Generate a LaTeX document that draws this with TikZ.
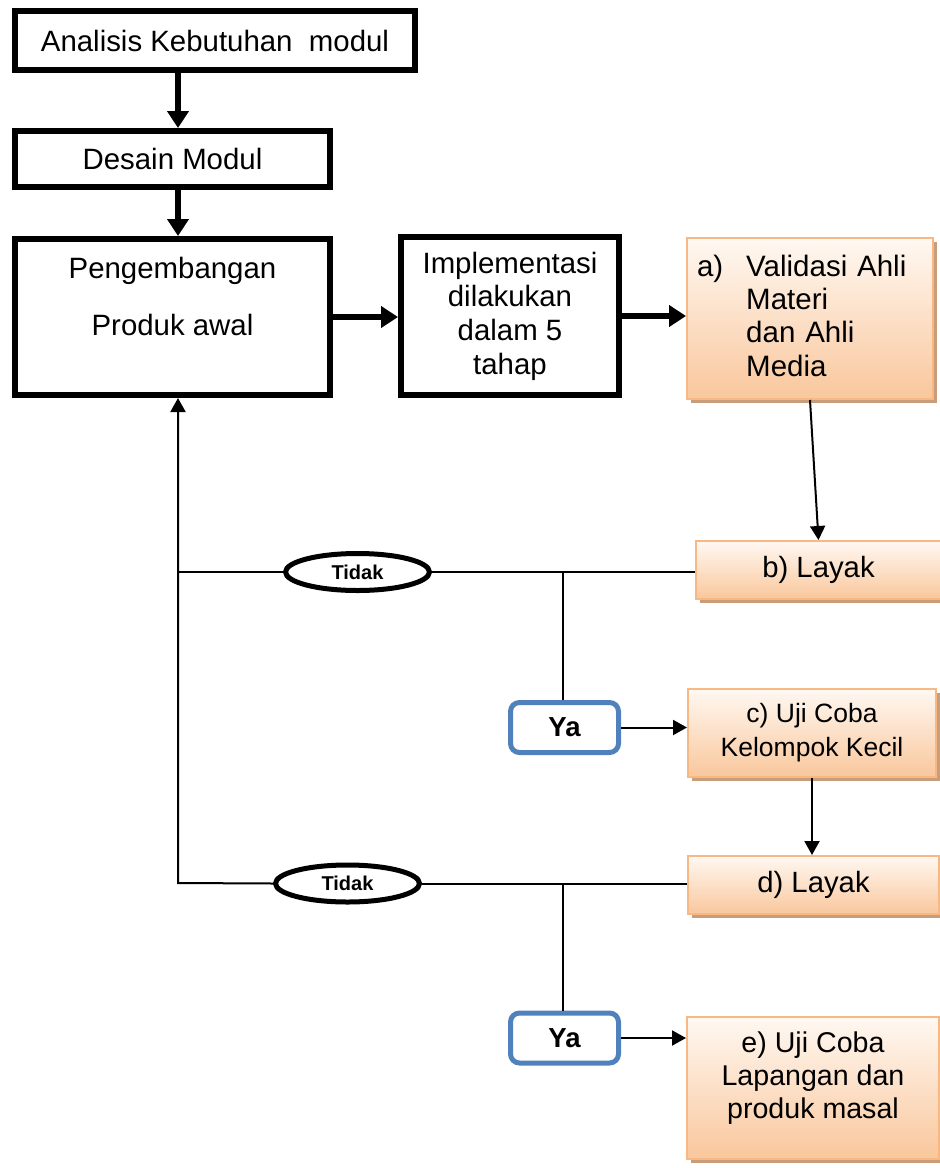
\documentclass[tikz,border=0pt]{standalone}
\usepackage{fontspec}
\setmainfont{Liberation Sans}
\usetikzlibrary{arrows.meta,shapes.geometric,shadows}
\definecolor{orTop}{HTML}{FFF8F2}
\definecolor{orBot}{HTML}{F9C79C}
\definecolor{orBorder}{HTML}{F7B883}
\definecolor{shadowc}{HTML}{C99C7A}
\definecolor{yaBlue}{HTML}{4F81BD}
\begin{document}
\begin{tikzpicture}[x=1pt,y=-1pt,
  blk/.style={draw, line width=6pt, fill=white, inner sep=0pt, align=center,
    font=\fontsize{29.4}{33.6}\selectfont},
  orbox/.style={draw=orBorder, line width=2pt, top color=orTop, bottom color=orBot,
    drop shadow={shadow xshift=4pt, shadow yshift=-4pt, fill=shadowc, opacity=1},
    inner sep=0pt, align=center, font=\fontsize{29.3}{33.4}\selectfont},
  tidak/.style={ellipse, draw, line width=5pt, fill=white, inner sep=0pt,
    minimum width=144pt, minimum height=37pt, font=\bfseries\fontsize{20}{24}\selectfont},
  yabox/.style={draw=yaBlue, line width=5pt, rounded corners=9pt, fill=white, inner sep=0pt,
    minimum width=108pt, minimum height=50pt, font=\bfseries\fontsize{27.5}{30}\selectfont},
  thickarrow/.style={line width=6pt, -{Triangle[length=17pt,width=21pt]}},
  thinarrow/.style={line width=2pt, -{Triangle[length=14pt,width=15pt]}},
  thinline/.style={line width=2pt}]
\useasboundingbox (0,0) rectangle (940,1168);

% main column
\node[blk, minimum width=400pt, minimum height=59pt] (an) at (215,40.5) {Analisis Kebutuhan~ modul};
\node[blk, minimum width=315pt, minimum height=56pt] (de) at (172.5,159) {Desain Modul};
\node[blk, minimum width=315pt, minimum height=156pt] (pe) at (172.5,317)
  {Pengembangan\\[24pt]Produk awal\\[8pt]\mbox{}};
\node[blk, minimum width=218pt, minimum height=158pt] (im) at (510,316)
  {Implementasi\\dilakukan\\dalam 5\\tahap};

% orange boxes
\node[orbox, minimum width=246pt, minimum height=161pt, text width=226pt, align=left,
  font=\fontsize{29.5}{33.4}\selectfont] (va) at (810,318.5)
  {a)\hspace{23pt}Validasi Ahli\\\phantom{a)}\hspace{23pt}Materi\\\phantom{a)}\hspace{23pt}dan Ahli\\\phantom{a)}\hspace{23pt}Media};
\node[orbox, minimum width=245pt, minimum height=58pt] (lb) at (818.5,570) {b) Layak};
\node[orbox, minimum width=248pt, minimum height=88pt, font=\fontsize{26.5}{34}\selectfont] (lc) at (812,733)
  {c) Uji Coba\\Kelompok Kecil};
\node[orbox, minimum width=251pt, minimum height=58pt] (ld) at (813.5,885) {d) Layak};
\node[orbox, minimum width=252pt, minimum height=142pt, font=\fontsize{28.6}{33}\selectfont] (le) at (813,1088)
  {e) Uji Coba\\Lapangan dan\\produk masal\\[-7pt]\mbox{}};

% decisions
\node[tidak] (n1) at (357.5,572) {Tidak};
\node[tidak] (n2) at (347.5,883.5) {Tidak};
\node[yabox] (y1) at (564.5,727.5) {Ya};
\node[yabox] (y2) at (564.5,1038) {Ya};

% connectors, main column
\coordinate (col) at (178,0);
\draw[thickarrow] (an.south -| col) -- (col |- de.north);
\draw[thickarrow] (de.south -| col) -- (col |- pe.north);
\draw[thickarrow] (pe.east) -- (pe.east -| im.west);
\draw[thickarrow] (im.east) -- (im.east -| va.west);
\draw[thinarrow] (va.south) -- (lb.north);

% first decision
\coordinate (t1) at (177,572);
\coordinate (j1) at (563,572);
\draw[thinline] (t1) -- (n1.west);
\draw[thinline] (n1.east) -- (n1.east -| lb.west);
\draw[thinline] (j1) -- (j1 |- y1.north);
\draw[thinarrow] (y1.east) -- (y1.east -| lc.west);
\draw[thinarrow] (lc.south) -- (lc.south |- ld.north);

% second decision
\coordinate (fb) at (178,883);
\coordinate (j2) at (563,883);
\draw[thinarrow] (n2.west) -- (fb) -- (fb |- pe.south);
\draw[thinline] (n2.east) -- (n2.east -| ld.west);
\draw[thinline] (j2) -- (j2 |- y2.north);
\draw[thinarrow] (y2.east) -- (y2.east -| le.west);
\end{tikzpicture}
\end{document}
